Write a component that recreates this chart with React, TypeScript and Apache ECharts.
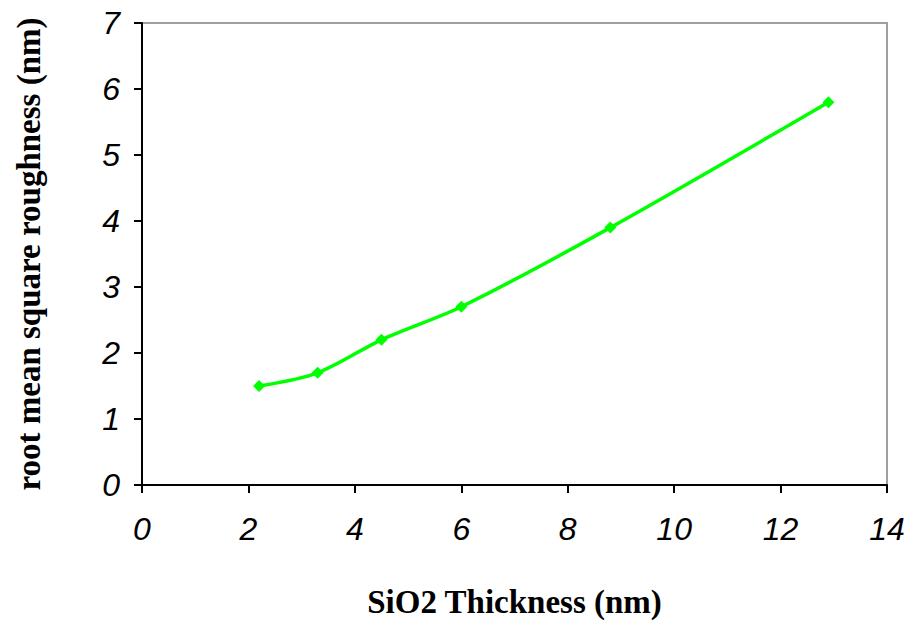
import React, { useEffect, useRef } from "react";
import * as echarts from "echarts";

const thickness = [2.2, 3.3, 4.5, 6.0, 8.8, 12.9];
const roughness = [1.5, 1.7, 2.2, 2.7, 3.9, 5.8];
const xTitle = "SiO2 Thickness (nm)";
const yTitle = "root mean square roughness (nm)";

export default function App() {
  const ref = useRef<HTMLDivElement>(null);
  useEffect(() => {
    if (!ref.current) return;
    const chart = echarts.init(ref.current, null, { renderer: "svg" });
    const tickFont = {
      fontFamily: "Liberation Sans, Arial, sans-serif",
      fontStyle: "italic" as const,
      fontSize: 32,
      color: "#000",
    };
    const titleFont = {
      fontFamily: "Liberation Serif, Times New Roman, serif",
      fontWeight: "bold" as const,
      fontSize: 33,
      color: "#000",
    };
    chart.setOption({
      animation: false,
      backgroundColor: "#fff",
      grid: {
        left: 142,
        top: 23,
        width: 745,
        height: 462,
        show: true,
        borderColor: "#a0a0a0",
        borderWidth: 2,
        containLabel: false,
      },
      xAxis: {
        type: "value",
        min: 0,
        max: 14,
        interval: 2,
        name: xTitle,
        nameLocation: "middle",
        nameGap: 100,
        nameTextStyle: titleFont,
        axisLine: { show: true, lineStyle: { color: "#000", width: 2 } },
        axisTick: { show: true, inside: false, length: 8, lineStyle: { color: "#000", width: 2 } },
        axisLabel: { ...tickFont, margin: 28 },
        splitLine: { show: false },
      },
      yAxis: {
        type: "value",
        min: 0,
        max: 7,
        interval: 1,
        name: yTitle,
        nameLocation: "middle",
        nameGap: 97,
        nameTextStyle: titleFont,
        axisLine: { show: true, lineStyle: { color: "#000", width: 2 } },
        axisTick: { show: true, inside: false, length: 8, lineStyle: { color: "#000", width: 2 } },
        axisLabel: { ...tickFont, margin: 22 },
        splitLine: { show: false },
      },
      series: [
        {
          type: "line",
          data: thickness.map((x, i) => [x, roughness[i]]),
          smooth: 0.3,
          symbol: "diamond",
          symbolSize: 12,
          lineStyle: { color: "#00ff00", width: 3.5 },
          itemStyle: { color: "#00ff00" },
        },
      ],
    });
    return () => chart.dispose();
  }, []);
  return (
    <div
      ref={ref}
      style={{ position: "absolute", left: 0, top: 0, width: 913, height: 625 }}
    />
  );
}
